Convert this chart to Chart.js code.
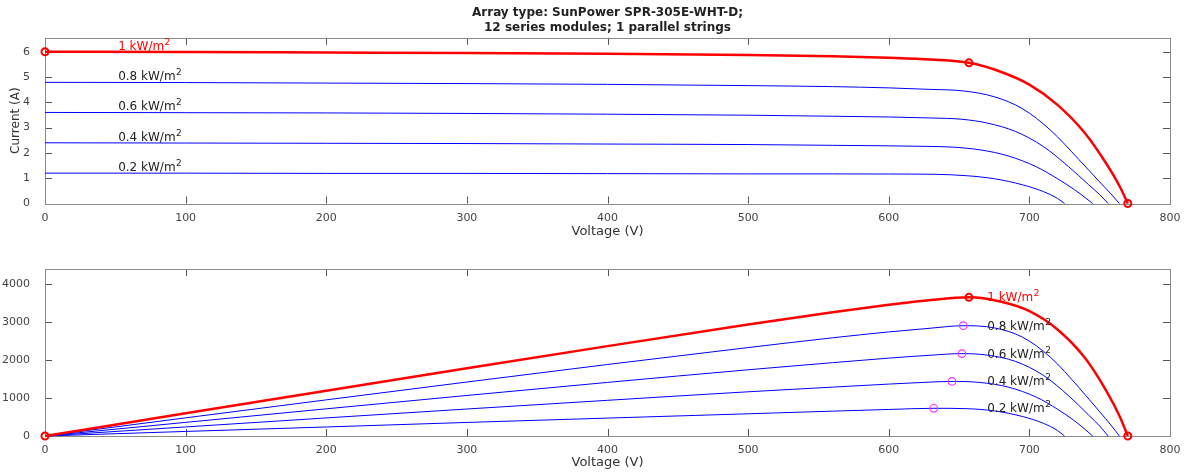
<!DOCTYPE html>
<html>
<head>
<meta charset="utf-8">
<script src="https://cdn.jsdelivr.net/npm/chart.js@4.4.1/dist/chart.umd.min.js"></script>
<style>
	html, body { margin: 0; padding: 0; background: #fff; }
	#wrap { position: relative; width: 1186px; height: 472px; overflow: hidden; }
	#ivChart { position: absolute; left: 0; top: 0; }
	#pvChart { position: absolute; left: 0; top: 240px; }
</style>
</head>
<body>
<div id="wrap">
	<canvas id="ivChart" width="1186" height="240"></canvas>
	<canvas id="pvChart" width="1186" height="232"></canvas>
</div>
<script>
// irradiance levels, strongest first
let irradiance = ['1 kW/m²', '0.8 kW/m²', '0.6 kW/m²', '0.4 kW/m²', '0.2 kW/m²'];

// I-V curves (voltage in V, current in A)
let volt10 = [0, 100, 200, 300, 400, 500, 560, 600, 630, 657, 680, 700, 720, 740, 755, 764, 770];
let amp10 = [6.00, 5.99, 5.97, 5.95, 5.92, 5.87, 5.82, 5.76, 5.69, 5.56, 5.20, 4.70, 3.90, 2.75, 1.55, 0.70, 0];
let volt08 = [0, 100, 200, 300, 400, 500, 560, 600, 630, 653, 675, 695, 715, 735, 750, 758, 764];
let amp08 = [4.79, 4.78, 4.76, 4.74, 4.71, 4.66, 4.62, 4.57, 4.51, 4.45, 4.22, 3.75, 2.90, 1.75, 0.85, 0.38, 0];
let volt06 = [0, 100, 200, 300, 400, 500, 560, 600, 630, 652, 670, 690, 710, 728, 742, 750, 756];
let amp06 = [3.60, 3.59, 3.58, 3.56, 3.53, 3.49, 3.45, 3.42, 3.38, 3.33, 3.18, 2.85, 2.25, 1.45, 0.75, 0.35, 0];
let volt04 = [0, 100, 200, 300, 400, 500, 560, 600, 625, 645, 665, 685, 705, 720, 732, 740, 745];
let amp04 = [2.40, 2.39, 2.38, 2.37, 2.35, 2.33, 2.30, 2.28, 2.26, 2.23, 2.12, 1.88, 1.45, 0.98, 0.55, 0.22, 0];
let volt02 = [0, 100, 200, 300, 400, 500, 560, 600, 632, 655, 675, 695, 710, 720, 725];
let amp02 = [1.20, 1.20, 1.19, 1.19, 1.18, 1.17, 1.17, 1.165, 1.155, 1.10, 0.98, 0.74, 0.47, 0.20, 0];

let volts = [volt10, volt08, volt06, volt04, volt02];
let amps = [amp10, amp08, amp06, amp04, amp02];

let titleLines = ['Array type: SunPower SPR-305E-WHT-D;', '12 series modules; 1 parallel strings'];
let voltTicks = [0, 100, 200, 300, 400, 500, 600, 700, 800];
let currentTicks = [0, 1, 2, 3, 4, 5, 6];
let powerTicks = [0, 1000, 2000, 3000, 4000];

var FONT = 'DejaVu Sans';

// power = V * I, and the maximum power point of every curve
var watts = volts.map(function (v, k) {
	return v.map(function (x, i) { return x * amps[k][i]; });
});
var mpp = watts.map(function (p) {
	var best = 0;
	for (var i = 1; i < p.length; i++) if (p[i] > p[best]) best = i;
	return best;
});

function points(xs, ys) {
	return xs.map(function (x, i) { return { x: x, y: ys[i] }; });
}

// box round the plot area with MATLAB style inward ticks
var framePlugin = {
	id: 'frame',
	beforeDatasetsDraw: function (chart) {
		var a = chart.chartArea, c = chart.ctx;
		var xs = chart.scales.x, ys = chart.scales.y;
		c.save();
		c.lineWidth = 1;
		c.strokeStyle = '#555';
		c.beginPath();
		xs.ticks.forEach(function (t) {
			var p = Math.round(xs.getPixelForValue(t.value)) + 0.5;
			c.moveTo(p, a.bottom); c.lineTo(p, a.bottom - 7);
			c.moveTo(p, a.top); c.lineTo(p, a.top + 7);
		});
		ys.ticks.forEach(function (t) {
			var p = Math.round(ys.getPixelForValue(t.value)) + 0.5;
			c.moveTo(a.left, p); c.lineTo(a.left + 7, p);
			c.moveTo(a.right, p); c.lineTo(a.right - 7, p);
		});
		c.stroke();
		c.strokeStyle = '#8a8a8a';
		c.strokeRect(Math.round(a.left) + 0.5, Math.round(a.top) + 0.5,
			Math.round(a.right - a.left), Math.round(a.bottom - a.top));
		c.restore();
	}
};

// text next to each curve, placed through the chart's scales; "m²" gets a raised 2
var curveLabelPlugin = {
	id: 'curveLabels',
	afterDatasetsDraw: function (chart, args, opts) {
		var c = chart.ctx, xs = chart.scales.x, ys = chart.scales.y;
		c.save();
		c.textAlign = 'left';
		c.textBaseline = 'alphabetic';
		opts.items.forEach(function (it) {
			var px = xs.getPixelForValue(it.x);
			var py = ys.getPixelForValue(it.y) + opts.dy;
			var base = it.text.replace('²', '');
			c.fillStyle = it.color;
			c.font = '12px "' + FONT + '"';
			c.fillText(base, px, py);
			var w = c.measureText(base).width;
			c.font = '9px "' + FONT + '"';
			c.fillText('2', px + w + 0.5, py - 5);
		});
		c.restore();
	}
};

function fixWidth(w) { return function (s) { s.width = w; }; }
function fixHeight(h) { return function (s) { s.height = h; }; }
function setTicks(list) {
	return function (s) { s.ticks = list.map(function (v) { return { value: v }; }); };
}
function plainNumber(v) { return String(v); }

function curveSets(yData, markBlue) {
	return volts.map(function (v, k) {
		var red = k === 0;
		var marks = red ? [0, mpp[0], v.length - 1] : (markBlue ? [mpp[k]] : []);
		return {
			data: points(v, yData[k]),
			borderColor: red ? '#ff0000' : '#0000ff',
			borderWidth: red ? 2.5 : 1,
			cubicInterpolationMode: 'monotone',
			pointStyle: 'circle',
			pointRadius: function (ctx) { return marks.indexOf(ctx.dataIndex) >= 0 ? (red ? 3.5 : 3.8) : 0; },
			pointBorderWidth: red ? 2 : 1.2,
			pointBorderColor: red ? '#ff0000' : '#ff33ff',
			pointBackgroundColor: 'rgba(0,0,0,0)',
			clip: false,
			order: red ? 0 : 1
		};
	});
}

function baseOptions(yMax, yTicks, xPadBottom) {
	return {
		responsive: false,
		animation: false,
		events: [],
		plugins: {
			legend: { display: false },
			tooltip: { enabled: false }
		},
		scales: {
			x: {
				type: 'linear',
				min: 0,
				max: 800,
				grid: { display: false },
				border: { display: false },
				afterBuildTicks: setTicks(voltTicks),
				ticks: { color: '#444', padding: 0, callback: plainNumber, font: { family: FONT, size: 11 } },
				title: {
					display: true,
					text: 'Voltage (V)',
					color: '#333',
					font: { family: FONT, size: 13 },
					padding: { top: 0, bottom: xPadBottom }
				}
			},
			y: {
				type: 'linear',
				min: 0,
				max: yMax,
				grid: { display: false },
				border: { display: false },
				afterBuildTicks: setTicks(yTicks),
				ticks: { color: '#444', padding: 7, callback: plainNumber, font: { family: FONT, size: 11 } },
				afterFit: fixWidth(45)
			}
		}
	};
}

// upper plot: current against voltage
var ivOptions = baseOptions(6.55, currentTicks, 1);
ivOptions.layout = { padding: { top: 0, right: 16, bottom: 0, left: 0 } };
ivOptions.scales.x.afterFit = fixHeight(36.5);
ivOptions.scales.y.title = {
	display: true,
	text: 'Current (A)',
	color: '#333',
	font: { family: FONT, size: 12 },
	padding: { top: 9, bottom: 0 }
};
ivOptions.plugins.title = {
	display: true,
	text: titleLines,
	fullSize: false,
	color: '#222',
	font: { family: FONT, size: 12, weight: 'bold' },
	padding: { top: 6, bottom: 3 }
};
ivOptions.plugins.curveLabels = {
	dy: -2,
	items: irradiance.map(function (t, k) {
		return { text: t, x: 52, y: amps[k][0], color: k === 0 ? '#ff0000' : '#222' };
	})
};

var ivChart = new Chart(document.getElementById('ivChart').getContext('2d'), {
	type: 'line',
	data: { datasets: curveSets(amps, false) },
	options: ivOptions,
	plugins: [framePlugin, curveLabelPlugin]
});

// lower plot: power against voltage
var pvOptions = baseOptions(4400, powerTicks, 1.5);
pvOptions.layout = { padding: { top: 29, right: 16, bottom: 0, left: 0 } };
pvOptions.scales.x.afterFit = fixHeight(36);
pvOptions.plugins.curveLabels = {
	dy: 4,
	items: irradiance.map(function (t, k) {
		return { text: t, x: 670, y: watts[k][mpp[k]], color: k === 0 ? '#ff0000' : '#222' };
	})
};

var pvChart = new Chart(document.getElementById('pvChart').getContext('2d'), {
	type: 'line',
	data: { datasets: curveSets(watts, true) },
	options: pvOptions,
	plugins: [framePlugin, curveLabelPlugin]
});
</script>
</body>
</html>
